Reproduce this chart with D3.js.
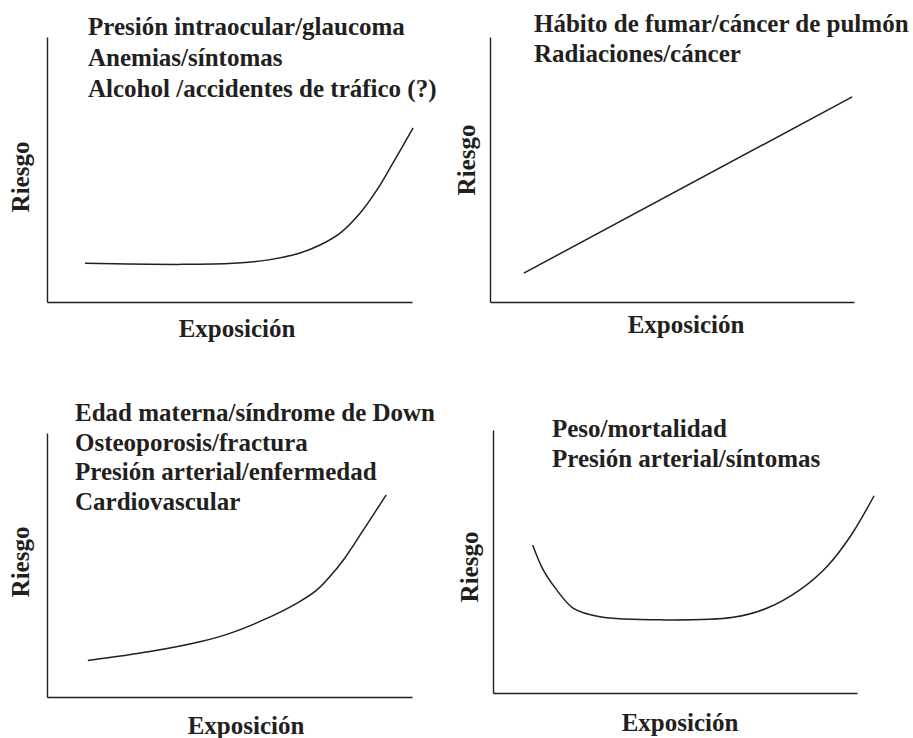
<!DOCTYPE html>
<html lang="es">
<head>
    <meta charset="UTF-8">
    <title>Riesgo / Exposición</title>
    <script src="https://d3js.org/d3.v7.min.js"></script>
    <style>
        body {
            margin: 0;
            padding: 0;
            background: #fff;
        }
        svg text {
            font-family: "Liberation Serif", "Times New Roman", serif;
            font-weight: bold;
            font-size: 25px;
            fill: #231f20;
        }
        .axis path {
            stroke: #231f20;
            stroke-width: 1.4;
        }
    </style>
</head>
<body>
<div id="chart"></div>
<script>
    // curve values (0-100 scale on both axes)
    const exposure1 = [10.4, 37.3, 51, 60.3, 69.3, 74.8, 80.3, 85.8, 90.4, 94.8, 100.3];
    const risk1     = [14.6, 14.2, 14.6, 15.8, 18.5, 21.5, 26, 33.6, 42.3, 52.5, 65.7];

    const exposure2 = [9.3, 99.5];
    const risk2     = [10.9, 77.4];

    const exposure3 = [11.2, 28.2, 41.9, 50.1, 59.3, 68.4, 73.9, 77.5, 81.2, 86.7, 92.9];
    const risk3     = [13.8, 17.2, 20.9, 24.1, 29.2, 35.5, 40.5, 45.6, 51.9, 63.3, 76.5];

    const exposure4 = [10.9, 13.8, 17.5, 22.1, 29.4, 46.8, 66, 75.2, 84.3, 91.7, 98.1, 104.7];
    const risk4     = [56.3, 46.8, 39.2, 32.2, 29, 27.8, 28.8, 32.2, 39.2, 48, 59.4, 75];

    const labels1 = ["Presión intraocular/glaucoma", "Anemias/síntomas", "Alcohol /accidentes de tráfico (?)"];
    const labels2 = ["Hábito de fumar/cáncer de pulmón", "Radiaciones/cáncer"];
    const labels3 = ["Edad materna/síndrome de Down", "Osteoporosis/fractura", "Presión arterial/enfermedad", "Cardiovascular"];
    const labels4 = ["Peso/mortalidad", "Presión arterial/síntomas"];

    const xTitle = "Exposición";
    const yTitle = "Riesgo";

    const W = 913, H = 738;

    const svg = d3.select("#chart")
        .append("svg")
        .attr("width", W)
        .attr("height", H);

    // layout of each small panel
    const panels = [
        { ex: exposure1, rk: risk1, labels: labels1,
          x0: 47, x1: 412, y0: 302, y1: 37,
          textX: 88, textY: 35, lineGap: 31,
          yTitleX: 29, yTitleY: 177, xTitleX: 237, xTitleY: 337 },
        { ex: exposure2, rk: risk2, labels: labels2,
          x0: 490, x1: 854, y0: 302, y1: 37,
          textX: 534, textY: 32, lineGap: 30,
          yTitleX: 475, yTitleY: 160, xTitleX: 686, xTitleY: 333 },
        { ex: exposure3, rk: risk3, labels: labels3,
          x0: 47, x1: 412, y0: 697, y1: 433,
          textX: 75, textY: 421, lineGap: 29.7,
          yTitleX: 29, yTitleY: 562, xTitleX: 246, xTitleY: 734 },
        { ex: exposure4, rk: risk4, labels: labels4,
          x0: 493, x1: 857, y0: 693, y1: 430,
          textX: 552, textY: 437, lineGap: 30,
          yTitleX: 478, yTitleY: 567, xTitleX: 680, xTitleY: 731 }
    ];

    panels.forEach(p => {
        const x = d3.scaleLinear().domain([0, 100]).range([p.x0, p.x1]);
        const y = d3.scaleLinear().domain([0, 100]).range([p.y0, p.y1]);

        const g = svg.append("g");

        g.append("g")
            .attr("class", "axis")
            .attr("transform", `translate(0,${p.y0})`)
            .call(d3.axisBottom(x).ticks(0).tickSizeOuter(0));

        g.append("g")
            .attr("class", "axis")
            .attr("transform", `translate(${p.x0},0)`)
            .call(d3.axisLeft(y).ticks(0).tickSizeOuter(0));

        const pts = p.ex.map((v, i) => [v, p.rk[i]]);

        const line = d3.line()
            .x(d => x(d[0]))
            .y(d => y(d[1]))
            .curve(d3.curveCatmullRom.alpha(0.5));

        g.append("path")
            .datum(pts)
            .attr("d", line)
            .attr("fill", "none")
            .attr("stroke", "#231f20")
            .attr("stroke-width", 1.5);

        g.selectAll("text.lbl")
            .data(p.labels)
            .enter()
            .append("text")
            .attr("class", "lbl")
            .attr("x", p.textX)
            .attr("y", (d, i) => p.textY + i * p.lineGap)
            .text(d => d);

        g.append("text")
            .attr("text-anchor", "middle")
            .attr("x", p.xTitleX)
            .attr("y", p.xTitleY)
            .text(xTitle);

        g.append("text")
            .attr("text-anchor", "middle")
            .attr("transform", `translate(${p.yTitleX},${p.yTitleY}) rotate(-90)`)
            .text(yTitle);
    });
</script>
</body>
</html>
